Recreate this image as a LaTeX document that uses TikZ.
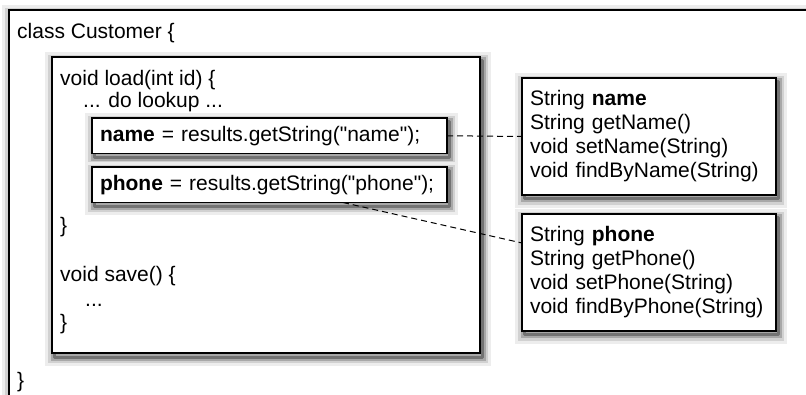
\documentclass[tikz,border=0pt]{standalone}
\usepackage{fontspec}
\setmainfont{Liberation Sans}

\begin{document}
\begin{tikzpicture}[x=1pt, y=1pt,
    font=\fontsize{21}{24}\selectfont,
    softshadow/.style={line join=round, shift={(2,-4)},
        preaction={draw=black!7, line width=18pt},
        preaction={draw=black!18, line width=12pt},
        preaction={draw=black!34, line width=7pt},
        draw=black!55, line width=3pt},
    block/.style={rectangle, draw, line width=1.6pt, fill=white, outer sep=0pt, inner sep=0pt, anchor=north west},
    stmt/.style={block, minimum width=355pt, minimum height=35.5pt, inner xsep=8pt, text width=339pt, align=left},
    member/.style={block, minimum width=254pt, minimum height=117pt, inner xsep=8pt, text width=238pt, align=left},
    code/.style={anchor=base west, inner sep=0pt},
    link/.style={dash pattern=on 6pt off 4pt, line width=1pt}]

\useasboundingbox (0,0) rectangle (806,-395);
\clip (0,0) rectangle (806,-395);

% Boxes, each after its shadow
\path[softshadow] (9,-10) rectangle ++(830,-420);
\node[block, minimum width=830pt, minimum height=420pt] (customer) at (9,-10) {};
\path[softshadow] (52,-57) rectangle ++(428,-296);
\node[block, minimum width=428pt, minimum height=296pt] (load) at (52,-57) {};
\path[softshadow] (92,-118) rectangle ++(355,-35.5);
\node[stmt] (nameexpr) at (92,-118) {\textbf{name} = results.getString(\textquotedbl name\textquotedbl);};
\path[softshadow] (92,-167) rectangle ++(355,-35.5);
\node[stmt] (phoneexpr) at (92,-167) {\textbf{phone} = results.getString(\textquotedbl phone\textquotedbl);};
\path[softshadow] (522,-78) rectangle ++(254,-117);
\node[member] (namefield) at (522,-78) {String \textbf{name}\\String getName()\\void setName(String)\\void findByName(String)};
\path[softshadow] (522,-214) rectangle ++(254,-117);
\node[member] (phonefield) at (522,-214) {String \textbf{phone}\\String getPhone()\\void setPhone(String)\\void findByPhone(String)};

% Code lines
\node[code] (cls) at (17,-39) {class Customer \{};
\node[code] (loadsig) at (60,-86) {void load(int id) \{};
\node[code] (lookup) at (83,-108) {... do lookup ...};
\node[code] (loadend) at (60,-233) {\}};
\node[code] (savesig) at (60,-282) {void save() \{};
\node[code] (savebody) at (85,-307) {...};
\node[code] (saveend) at (60,-330) {\}};
\node[code] (clsend) at (17,-387) {\}};

% Connections
\draw[link] (nameexpr.east) -- (namefield.west);
\draw[link] ([xshift=-104pt]phoneexpr.south east) -- ([yshift=-29pt]phonefield.north west);
\end{tikzpicture}
\end{document}
